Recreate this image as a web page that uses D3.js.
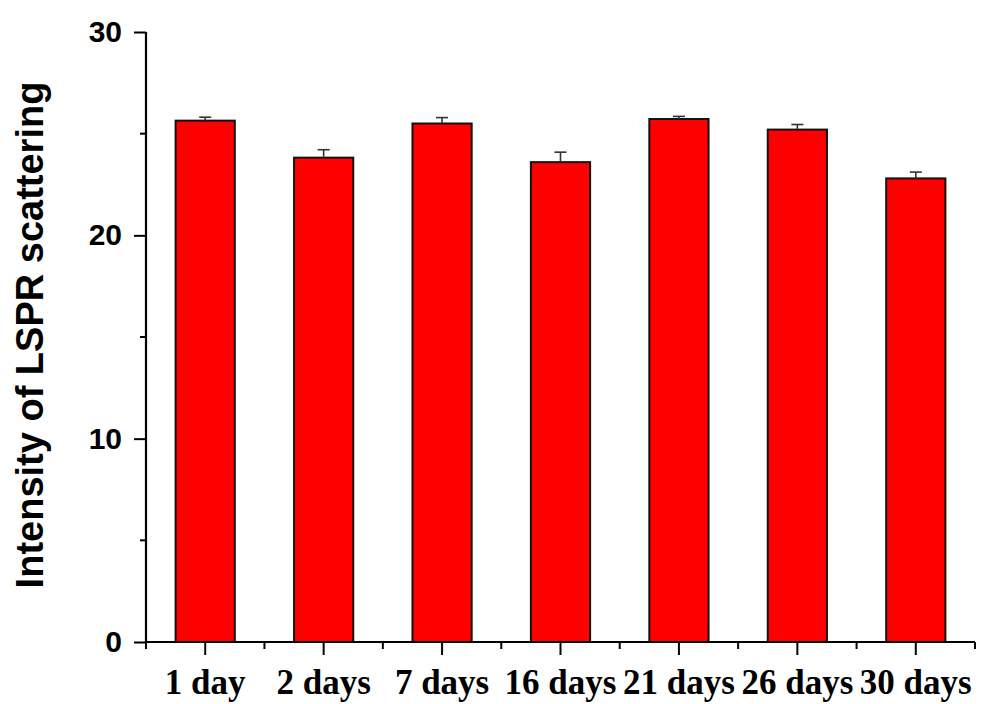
<!DOCTYPE html>
<html>
<head>
<meta charset="utf-8">
<script src="https://cdn.jsdelivr.net/npm/d3@7"></script>
<style>
  html, body { margin: 0; padding: 0; background: #ffffff; }
  svg { display: block; }
</style>
</head>
<body>
<svg id="chart" width="993" height="704"></svg>
<script>
// Storage time points and measured LSPR scattering intensity (mean and upper error)
const categories = ["1 day", "2 days", "7 days", "16 days", "21 days", "26 days", "30 days"];
const intensity = [25.64, 23.82, 25.5, 23.6, 25.72, 25.2, 22.8];
const errors = [0.17, 0.39, 0.29, 0.49, 0.13, 0.25, 0.31];
const yMajorTicks = [0, 10, 20, 30];
const yMinorTicks = [5, 15, 25];
const yLabel = "Intensity of LSPR scattering";

(function drawChart() {
  const svg = d3.select("#chart");
  const plotLeft = 146, plotRight = 975, plotTop = 32, plotBottom = 642;

  const x = d3.scaleBand()
    .domain(categories)
    .range([plotLeft, plotRight])
    .paddingInner(0.5)
    .paddingOuter(0.25);

  const y = d3.scaleLinear().domain([0, 30]).range([plotBottom, plotTop]);

  const data = categories.map((c, i) => ({ c, v: intensity[i], e: errors[i] }));

  // Bars
  svg.append("g")
    .selectAll("rect")
    .data(data)
    .join("rect")
    .attr("x", d => x(d.c))
    .attr("y", d => y(d.v))
    .attr("width", x.bandwidth())
    .attr("height", d => y(0) - y(d.v))
    .attr("fill", "#ff0000")
    .attr("stroke", "#111")
    .attr("stroke-width", 2);

  // Upper error bars
  const eb = svg.append("g").attr("stroke", "#333").attr("stroke-width", 1.6).attr("fill", "none");
  eb.selectAll("line.stem")
    .data(data)
    .join("line")
    .attr("class", "stem")
    .attr("x1", d => x(d.c) + x.bandwidth() / 2)
    .attr("x2", d => x(d.c) + x.bandwidth() / 2)
    .attr("y1", d => y(d.v))
    .attr("y2", d => y(d.v + d.e));
  eb.selectAll("line.cap")
    .data(data)
    .join("line")
    .attr("class", "cap")
    .attr("x1", d => x(d.c) + x.bandwidth() / 2 - 6)
    .attr("x2", d => x(d.c) + x.bandwidth() / 2 + 6)
    .attr("y1", d => y(d.v + d.e))
    .attr("y2", d => y(d.v + d.e));

  // Y axis with major and minor ticks
  const yAxis = svg.append("g")
    .attr("transform", `translate(${plotLeft},0)`)
    .call(d3.axisLeft(y).tickValues(yMajorTicks).tickSize(12).tickPadding(12).tickFormat(d3.format("d")));
  yAxis.select(".domain").attr("d", `M0,${plotTop}V${plotBottom}`).attr("stroke-width", 2.2);
  yAxis.selectAll(".tick line").attr("stroke-width", 2);
  yAxis.selectAll("text")
    .attr("font-family", "Liberation Sans, Arial, sans-serif")
    .attr("font-weight", "bold")
    .attr("font-size", 30)
    .attr("fill", "#000");
  svg.append("g")
    .selectAll("line")
    .data(yMinorTicks)
    .join("line")
    .attr("x1", plotLeft - 6).attr("x2", plotLeft)
    .attr("y1", d => y(d)).attr("y2", d => y(d))
    .attr("stroke", "#000").attr("stroke-width", 2);

  // X axis: major ticks at bar centres, minor ticks at band boundaries
  const xAxis = svg.append("g")
    .attr("transform", `translate(0,${plotBottom})`)
    .call(d3.axisBottom(x).tickSize(13).tickPadding(14));
  xAxis.select(".domain").attr("d", `M${plotLeft},0H${plotRight}`).attr("stroke-width", 2.2);
  xAxis.selectAll(".tick line").attr("stroke-width", 2);
  xAxis.selectAll("text")
    .attr("font-family", "Liberation Serif, Times New Roman, serif")
    .attr("font-weight", "bold")
    .attr("font-size", 35)
    .attr("fill", "#000");
  const step = x.step();
  const boundaries = d3.range(categories.length + 1).map(i => plotLeft + i * step);
  svg.append("g")
    .selectAll("line")
    .data(boundaries)
    .join("line")
    .attr("x1", d => d).attr("x2", d => d)
    .attr("y1", plotBottom).attr("y2", plotBottom + 7)
    .attr("stroke", "#000").attr("stroke-width", 2);

  // Y axis title
  svg.append("text")
    .attr("transform", `translate(43,${(plotTop + plotBottom) / 2 - 2}) rotate(-90)`)
    .attr("text-anchor", "middle")
    .attr("font-family", "Liberation Sans, Arial, sans-serif")
    .attr("font-weight", "bold")
    .attr("font-size", 38)
    .attr("fill", "#000")
    .text(yLabel);
})();
</script>
</body>
</html>
